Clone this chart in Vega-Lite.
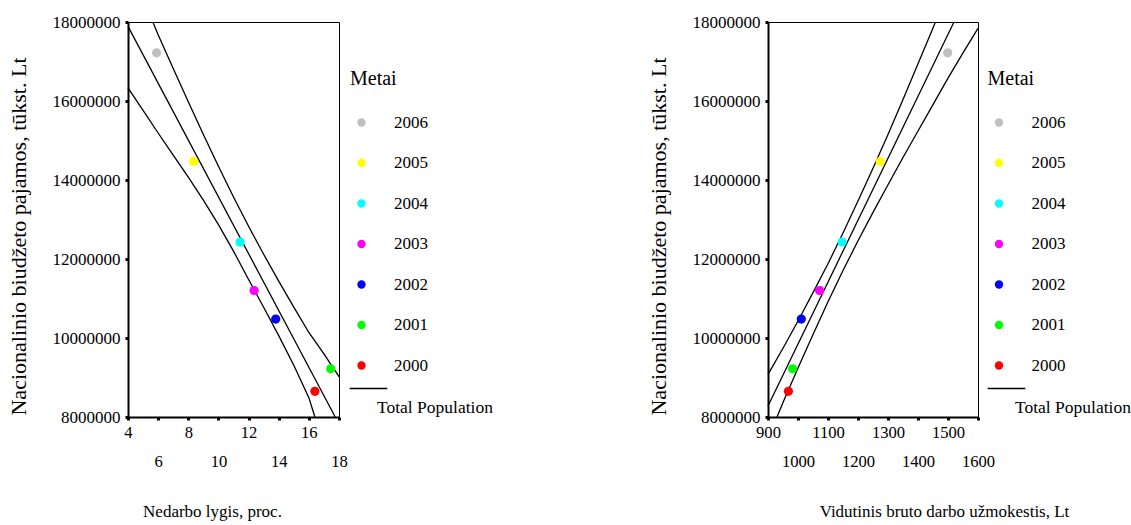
{
  "$schema": "https://vega.github.io/schema/vega-lite/v6.json",
  "background": "white",
  "padding": {"left": 6, "top": 12, "right": 5, "bottom": 5},
  "config": {
    "font": "Liberation Serif",
    "view": {"stroke": "black", "strokeWidth": 1},
    "axis": {"grid": false, "domainColor": "black", "domainWidth": 2, "tickColor": "black", "tickSize": 3, "tickWidth": 3, "labelColor": "black", "titleColor": "black", "titleFontWeight": "normal", "labelFont": "Liberation Serif", "titleFont": "Liberation Serif"},
    "legend": {"titleColor": "black", "labelColor": "black", "titleFontWeight": "normal", "labelFont": "Liberation Serif", "titleFont": "Liberation Serif"}
  },
  "datasets": {
    "pts_left": [
      {"year": "2006", "x": 5.9, "y": 17220000},
      {"year": "2005", "x": 8.35, "y": 14470000},
      {"year": "2004", "x": 11.44, "y": 12430000},
      {"year": "2003", "x": 12.37, "y": 11200000},
      {"year": "2002", "x": 13.8, "y": 10480000},
      {"year": "2001", "x": 17.45, "y": 9220000},
      {"year": "2000", "x": 16.4, "y": 8650000}
    ],
    "pts_right": [
      {"year": "2006", "x": 1499, "y": 17220000},
      {"year": "2005", "x": 1274, "y": 14470000},
      {"year": "2004", "x": 1147, "y": 12430000},
      {"year": "2003", "x": 1072, "y": 11200000},
      {"year": "2002", "x": 1011, "y": 10480000},
      {"year": "2001", "x": 982, "y": 9220000},
      {"year": "2000", "x": 968, "y": 8650000}
    ],
    "lines_left": [
      {"band": "upper", "grp": "Total Population", "x": 5.65, "y": 18000000},
      {"band": "upper", "grp": "Total Population", "x": 6, "y": 17680000},
      {"band": "upper", "grp": "Total Population", "x": 7, "y": 16820000},
      {"band": "upper", "grp": "Total Population", "x": 8, "y": 15980000},
      {"band": "upper", "grp": "Total Population", "x": 9, "y": 15150000},
      {"band": "upper", "grp": "Total Population", "x": 10, "y": 14350000},
      {"band": "upper", "grp": "Total Population", "x": 11, "y": 13570000},
      {"band": "upper", "grp": "Total Population", "x": 12, "y": 12830000},
      {"band": "upper", "grp": "Total Population", "x": 13, "y": 12120000},
      {"band": "upper", "grp": "Total Population", "x": 14, "y": 11440000},
      {"band": "upper", "grp": "Total Population", "x": 15, "y": 10780000},
      {"band": "upper", "grp": "Total Population", "x": 16, "y": 10140000},
      {"band": "upper", "grp": "Total Population", "x": 17, "y": 9600000},
      {"band": "upper", "grp": "Total Population", "x": 18, "y": 9020000},
      {"band": "mid", "grp": "Total Population", "x": 4, "y": 17890000},
      {"band": "mid", "grp": "Total Population", "x": 17.75, "y": 8000000},
      {"band": "lower", "grp": "Total Population", "x": 4, "y": 16330000},
      {"band": "lower", "grp": "Total Population", "x": 5, "y": 15760000},
      {"band": "lower", "grp": "Total Population", "x": 6, "y": 15190000},
      {"band": "lower", "grp": "Total Population", "x": 7, "y": 14630000},
      {"band": "lower", "grp": "Total Population", "x": 8, "y": 14070000},
      {"band": "lower", "grp": "Total Population", "x": 9, "y": 13490000},
      {"band": "lower", "grp": "Total Population", "x": 10, "y": 12870000},
      {"band": "lower", "grp": "Total Population", "x": 11, "y": 12200000},
      {"band": "lower", "grp": "Total Population", "x": 12, "y": 11480000},
      {"band": "lower", "grp": "Total Population", "x": 13, "y": 10780000},
      {"band": "lower", "grp": "Total Population", "x": 14, "y": 10060000},
      {"band": "lower", "grp": "Total Population", "x": 15, "y": 9310000},
      {"band": "lower", "grp": "Total Population", "x": 16, "y": 8490000},
      {"band": "lower", "grp": "Total Population", "x": 16.4, "y": 8000000}
    ],
    "lines_right": [
      {"band": "upper", "grp": "Total Population", "x": 900, "y": 9080000},
      {"band": "upper", "grp": "Total Population", "x": 950, "y": 9740000},
      {"band": "upper", "grp": "Total Population", "x": 1000, "y": 10430000},
      {"band": "upper", "grp": "Total Population", "x": 1050, "y": 11150000},
      {"band": "upper", "grp": "Total Population", "x": 1100, "y": 11880000},
      {"band": "upper", "grp": "Total Population", "x": 1150, "y": 12660000},
      {"band": "upper", "grp": "Total Population", "x": 1200, "y": 13470000},
      {"band": "upper", "grp": "Total Population", "x": 1250, "y": 14300000},
      {"band": "upper", "grp": "Total Population", "x": 1300, "y": 15150000},
      {"band": "upper", "grp": "Total Population", "x": 1350, "y": 16040000},
      {"band": "upper", "grp": "Total Population", "x": 1400, "y": 16940000},
      {"band": "upper", "grp": "Total Population", "x": 1450, "y": 17850000},
      {"band": "upper", "grp": "Total Population", "x": 1458, "y": 18000000},
      {"band": "mid", "grp": "Total Population", "x": 900, "y": 8280000},
      {"band": "mid", "grp": "Total Population", "x": 1520, "y": 18000000},
      {"band": "lower", "grp": "Total Population", "x": 930, "y": 8000000},
      {"band": "lower", "grp": "Total Population", "x": 950, "y": 8370000},
      {"band": "lower", "grp": "Total Population", "x": 1000, "y": 9240000},
      {"band": "lower", "grp": "Total Population", "x": 1050, "y": 10090000},
      {"band": "lower", "grp": "Total Population", "x": 1100, "y": 10920000},
      {"band": "lower", "grp": "Total Population", "x": 1150, "y": 11710000},
      {"band": "lower", "grp": "Total Population", "x": 1200, "y": 12460000},
      {"band": "lower", "grp": "Total Population", "x": 1250, "y": 13180000},
      {"band": "lower", "grp": "Total Population", "x": 1300, "y": 13880000},
      {"band": "lower", "grp": "Total Population", "x": 1350, "y": 14570000},
      {"band": "lower", "grp": "Total Population", "x": 1400, "y": 15240000},
      {"band": "lower", "grp": "Total Population", "x": 1450, "y": 15910000},
      {"band": "lower", "grp": "Total Population", "x": 1500, "y": 16580000},
      {"band": "lower", "grp": "Total Population", "x": 1550, "y": 17220000},
      {"band": "lower", "grp": "Total Population", "x": 1600, "y": 17840000}
    ]
  },
  "hconcat": [
    {
      "width": 211,
      "height": 395,
      "encoding": {
        "x": {"field": "x", "type": "quantitative", "scale": {"domain": [4, 18], "nice": false, "zero": false},
          "axis": {"values": [4, 6, 8, 10, 12, 14, 16, 18], "format": "d", "labelExpr": "datum.value % 4 == 0 ? datum.label : ['', datum.label]", "labelFont": "Liberation Serif", "labelLineHeight": 29.5, "labelPadding": 4, "labelFontSize": 16.6, "labelOverlap": false, "labelFlush": false, "labelBound": false, "title": "Nedarbo lygis, proc.", "titleFont": "Liberation Serif", "titleFontSize": 17, "titlePadding": 33, "titleX": 84}},
        "y": {"field": "y", "type": "quantitative", "scale": {"domain": [8000000, 18000000], "nice": false, "zero": false},
          "axis": {"values": [8000000, 10000000, 12000000, 14000000, 16000000, 18000000], "format": "d", "labelFont": "Liberation Serif", "labelFontSize": 17, "labelPadding": 5, "title": "Nacionalinio biudžeto pajamos, tūkst. Lt", "titleFont": "Liberation Serif", "titleFontSize": 22, "titlePadding": 22, "titleY": 214}}
      },
      "layer": [
        {
          "data": {"name": "lines_left"},
          "mark": {"type": "line", "strokeWidth": 1.3},
          "encoding": {
            "detail": {"field": "band", "type": "nominal"},
            "stroke": {"field": "grp", "type": "nominal", "scale": {"domain": ["Total Population"], "range": ["black"]},
              "legend": {"title": null, "orient": "none", "legendX": 221, "legendY": 347, "symbolSize": 1414, "symbolStrokeWidth": 1.3, "labelOffset": -11, "labelExpr": "['', '', datum.label]", "labelBaseline": "middle", "labelFont": "Liberation Serif", "labelFontSize": 17.5}}
          }
        },
        {
          "data": {"name": "pts_left"},
          "mark": {"type": "circle", "size": 85, "opacity": 1},
          "encoding": {
            "color": {"field": "year", "type": "nominal", "sort": ["2006", "2005", "2004", "2003", "2002", "2001", "2000"],
              "scale": {"domain": ["2006", "2005", "2004", "2003", "2002", "2001", "2000"], "range": ["#c0c0c0", "#ffff00", "#00ffff", "#ff00ff", "#0000ff", "#00ff00", "#ff0000"]},
              "legend": {"title": "Metai", "orient": "none", "legendX": 222, "legendY": 47, "titleFont": "Liberation Serif", "titleFontSize": 20, "labelFont": "Liberation Serif", "labelFontSize": 17, "symbolType": "circle", "symbolSize": 70, "symbolStrokeWidth": 0, "symbolOffset": 3, "labelOffset": 24, "rowPadding": 22.5, "titlePadding": 25}}
          }
        }
      ]
    },
    {
      "width": 210,
      "height": 395,
      "encoding": {
        "x": {"field": "x", "type": "quantitative", "scale": {"domain": [900, 1600], "nice": false, "zero": false},
          "axis": {"values": [900, 1000, 1100, 1200, 1300, 1400, 1500, 1600], "format": "d", "labelExpr": "(datum.value / 100) % 2 == 1 ? datum.label : ['', datum.label]", "labelFont": "Liberation Serif", "labelLineHeight": 29.5, "labelPadding": 4, "labelFontSize": 16.6, "labelOverlap": false, "labelFlush": false, "labelBound": false, "title": "Vidutinis bruto darbo užmokestis, Lt", "titleFont": "Liberation Serif", "titleFontSize": 17, "titlePadding": 33, "titleX": 176}},
        "y": {"field": "y", "type": "quantitative", "scale": {"domain": [8000000, 18000000], "nice": false, "zero": false},
          "axis": {"values": [8000000, 10000000, 12000000, 14000000, 16000000, 18000000], "format": "d", "labelFont": "Liberation Serif", "labelFontSize": 17, "labelPadding": 5, "title": "Nacionalinio biudžeto pajamos, tūkst. Lt", "titleFont": "Liberation Serif", "titleFontSize": 22, "titlePadding": 22, "titleY": 214}}
      },
      "layer": [
        {
          "data": {"name": "lines_right"},
          "mark": {"type": "line", "strokeWidth": 1.3},
          "encoding": {
            "detail": {"field": "band", "type": "nominal"},
            "stroke": {"field": "grp", "type": "nominal", "scale": {"domain": ["Total Population"], "range": ["black"]},
              "legend": {"title": null, "orient": "none", "legendX": 219, "legendY": 347, "symbolSize": 1414, "symbolStrokeWidth": 1.3, "labelOffset": -11, "labelExpr": "['', '', datum.label]", "labelBaseline": "middle", "labelFont": "Liberation Serif", "labelFontSize": 17.5}}
          }
        },
        {
          "data": {"name": "pts_right"},
          "mark": {"type": "circle", "size": 85, "opacity": 1},
          "encoding": {
            "color": {"field": "year", "type": "nominal", "sort": ["2006", "2005", "2004", "2003", "2002", "2001", "2000"],
              "scale": {"domain": ["2006", "2005", "2004", "2003", "2002", "2001", "2000"], "range": ["#c0c0c0", "#ffff00", "#00ffff", "#ff00ff", "#0000ff", "#00ff00", "#ff0000"]},
              "legend": {"title": "Metai", "orient": "none", "legendX": 219.5, "legendY": 47, "titleFont": "Liberation Serif", "titleFontSize": 20, "labelFont": "Liberation Serif", "labelFontSize": 17, "symbolType": "circle", "symbolSize": 70, "symbolStrokeWidth": 0, "symbolOffset": 3, "labelOffset": 24, "rowPadding": 22.5, "titlePadding": 25}}
          }
        }
      ]
    }
  ],
  "spacing": 429,
  "bounds": "flush",
  "resolve": {"scale": {"color": "independent", "stroke": "independent"}, "legend": {"color": "independent", "stroke": "independent"}}
}
